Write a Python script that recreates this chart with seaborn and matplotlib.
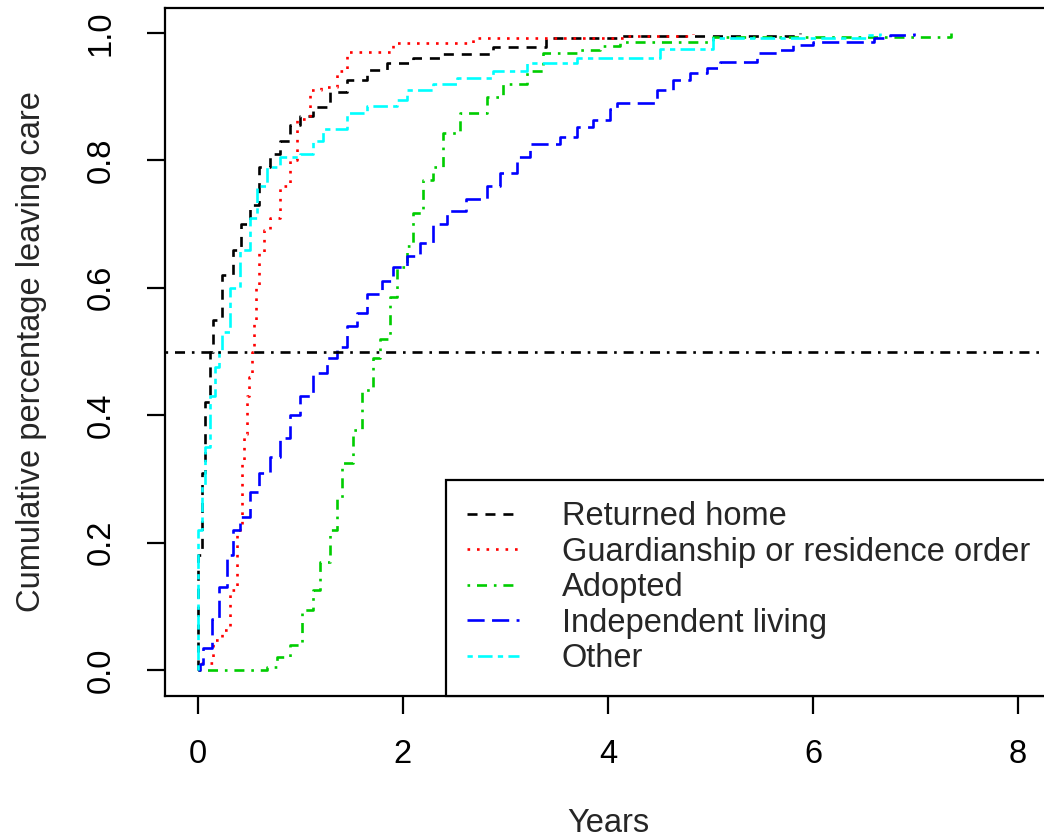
import numpy as np
import pandas as pd
import matplotlib
matplotlib.use("Agg")
import matplotlib.pyplot as plt
import seaborn as sns

# R-like look: white, black box, outward ticks
sns.set_theme(style="ticks")
plt.rcParams['font.family'] = ['Liberation Sans', 'DejaVu Sans']

# --- data (years, cumulative proportion) ---
home_t = [0, 0.005, 0.04, 0.07, 0.12, 0.15, 0.24, 0.34, 0.42, 0.51, 0.60, 0.70, 0.80,
          0.90, 1.0, 1.12, 1.29, 1.45, 1.65, 1.84, 2.10, 2.36, 2.88, 3.40, 4.12,
          5.84, 5.87]
home_v = [0, 0.18, 0.31, 0.42, 0.50, 0.55, 0.62, 0.66, 0.70, 0.73, 0.79, 0.81, 0.83,
          0.855, 0.87, 0.884, 0.907, 0.926, 0.942, 0.953, 0.961, 0.967, 0.978, 0.992,
          0.995, 0.997, 1.0]

guard_t = [0, 0.04, 0.15, 0.24, 0.31, 0.38, 0.43, 0.45, 0.48, 0.50, 0.53, 0.55,
           0.57, 0.60, 0.65, 0.70, 0.80, 0.90, 0.97, 1.09, 1.20, 1.36, 1.45, 1.90,
           2.68, 4.19, 4.83]
guard_v = [0, 0.011, 0.047, 0.063, 0.126, 0.22, 0.325, 0.37, 0.43, 0.46, 0.50, 0.55,
           0.60, 0.655, 0.69, 0.71, 0.76, 0.80, 0.865, 0.91, 0.915, 0.94, 0.97, 0.985,
           0.992, 0.995, 0.998]

adopt_t = [0, 0.67, 0.77, 0.90, 1.02, 1.12, 1.19, 1.29, 1.36, 1.41, 1.51, 1.60,
           1.71, 1.78, 1.87, 1.94, 2.04, 2.10, 2.20, 2.29, 2.39, 2.56, 2.82, 2.98,
           3.21, 3.37, 3.70, 3.92, 4.12, 5.02, 7.34]
adopt_v = [0, 0.005, 0.02, 0.04, 0.094, 0.125, 0.17, 0.22, 0.27, 0.325, 0.377, 0.44,
           0.49, 0.52, 0.585, 0.633, 0.665, 0.717, 0.77, 0.79, 0.843, 0.875, 0.90, 0.92,
           0.94, 0.968, 0.973, 0.98, 0.986, 0.994, 1.0]

indep_t = [0, 0.02, 0.05, 0.14, 0.21, 0.28, 0.34, 0.41, 0.51, 0.60, 0.70, 0.80,
           0.90, 1.0, 1.12, 1.26, 1.36, 1.45, 1.55, 1.65, 1.80, 1.90, 2.04, 2.17,
           2.29, 2.43, 2.62, 2.82, 2.95, 3.11, 3.24, 3.53, 3.70, 3.85, 4.02, 4.09,
           4.48, 4.63, 4.80, 4.97, 5.09, 5.45, 5.68, 5.80, 6.0, 6.59, 6.75, 6.98]
indep_v = [0, 0.01, 0.035, 0.08, 0.13, 0.18, 0.22, 0.24, 0.28, 0.31, 0.335, 0.365,
           0.40, 0.43, 0.466, 0.49, 0.507, 0.54, 0.56, 0.59, 0.61, 0.633, 0.65, 0.67,
           0.70, 0.72, 0.74, 0.76, 0.78, 0.805, 0.825, 0.837, 0.853, 0.863, 0.88, 0.89,
           0.91, 0.926, 0.937, 0.945, 0.955, 0.968, 0.973, 0.981, 0.986, 0.992, 0.997, 1.0]

other_t = [0, 0.005, 0.04, 0.07, 0.12, 0.17, 0.21, 0.24, 0.31, 0.41, 0.51, 0.58,
           0.67, 0.80, 1.0, 1.12, 1.22, 1.45, 1.65, 1.94, 2.04, 2.29, 2.53, 2.88,
           3.21, 3.70, 4.51, 5.02, 6.53, 6.65]
other_v = [0, 0.22, 0.29, 0.35, 0.43, 0.476, 0.50, 0.53, 0.60, 0.66, 0.71, 0.76,
           0.79, 0.805, 0.81, 0.83, 0.85, 0.875, 0.885, 0.895, 0.91, 0.92, 0.93, 0.94,
           0.953, 0.96, 0.975, 0.992, 0.997, 1.0]

labels = ["Returned home", "Guardianship or residence order", "Adopted",
          "Independent living", "Other"]
colors = ["black", "#FF0000", "#00CD00", "#0000FF", "#00FFFF"]
# R lty 2..6, in line-width units
styles = [(0, (3.8, 3)), (0, (1, 2.6)), (0, (1, 2.6, 3.8, 2.6)), (0, (6.5, 2.8)),
          (0, (2, 2, 5.5, 2))]

series = [(home_t, home_v), (guard_t, guard_v), (adopt_t, adopt_v),
          (indep_t, indep_v), (other_t, other_v)]

FS = 23.5
LW = 1.9

fig = plt.figure(figsize=(10.44, 8.39), dpi=100)
ax = fig.add_axes([165 / 1044, 1 - 695.5 / 839, 886 / 1044, 688 / 839])

for (t, v), lab, col, ls in zip(series, labels, colors, styles):
    df = pd.DataFrame({"Years": t, "cum": v})
    sns.lineplot(data=df, x="Years", y="cum", ax=ax, color=col, linestyle=ls,
                 linewidth=LW, drawstyle="steps-post", estimator=None,
                 sort=False, label=lab)

ax.axhline(0.5, color="black", linestyle=(0, (1, 2.6, 3.8, 2.6)), linewidth=LW)

ax.set_xlim(-0.32, 8.32)
ax.set_ylim(-0.04, 1.04)
ax.set_xticks([0, 2, 4, 6, 8])
ax.set_yticks([0.0, 0.2, 0.4, 0.6, 0.8, 1.0])
ax.set_yticklabels(["0.0", "0.2", "0.4", "0.6", "0.8", "1.0"], rotation=90, va="center")

for s in ax.spines.values():
    s.set_visible(True)
    s.set_color("black")
    s.set_linewidth(1.6)

ax.tick_params(axis="both", direction="out", length=13, width=1.6, colors="black",
               labelsize=FS)
ax.tick_params(axis="x", pad=18)
ax.tick_params(axis="y", pad=22)

ax.set_xlabel("Years", fontsize=FS, va="center")
ax.xaxis.set_label_coords(0.5, -0.186)
ax.set_ylabel("Cumulative percentage leaving care", fontsize=FS, va="center")
ax.yaxis.set_label_coords(-0.151, 0.5)

leg = ax.legend(loc="lower right", borderaxespad=0, fontsize=FS, frameon=True,
                fancybox=False, framealpha=1, edgecolor="black",
                handlelength=1.6, handletextpad=1.3, borderpad=0.65,
                labelspacing=0.14)
leg.get_frame().set_linewidth(1.6)

fig.savefig("out.png", dpi=100, facecolor="white")
